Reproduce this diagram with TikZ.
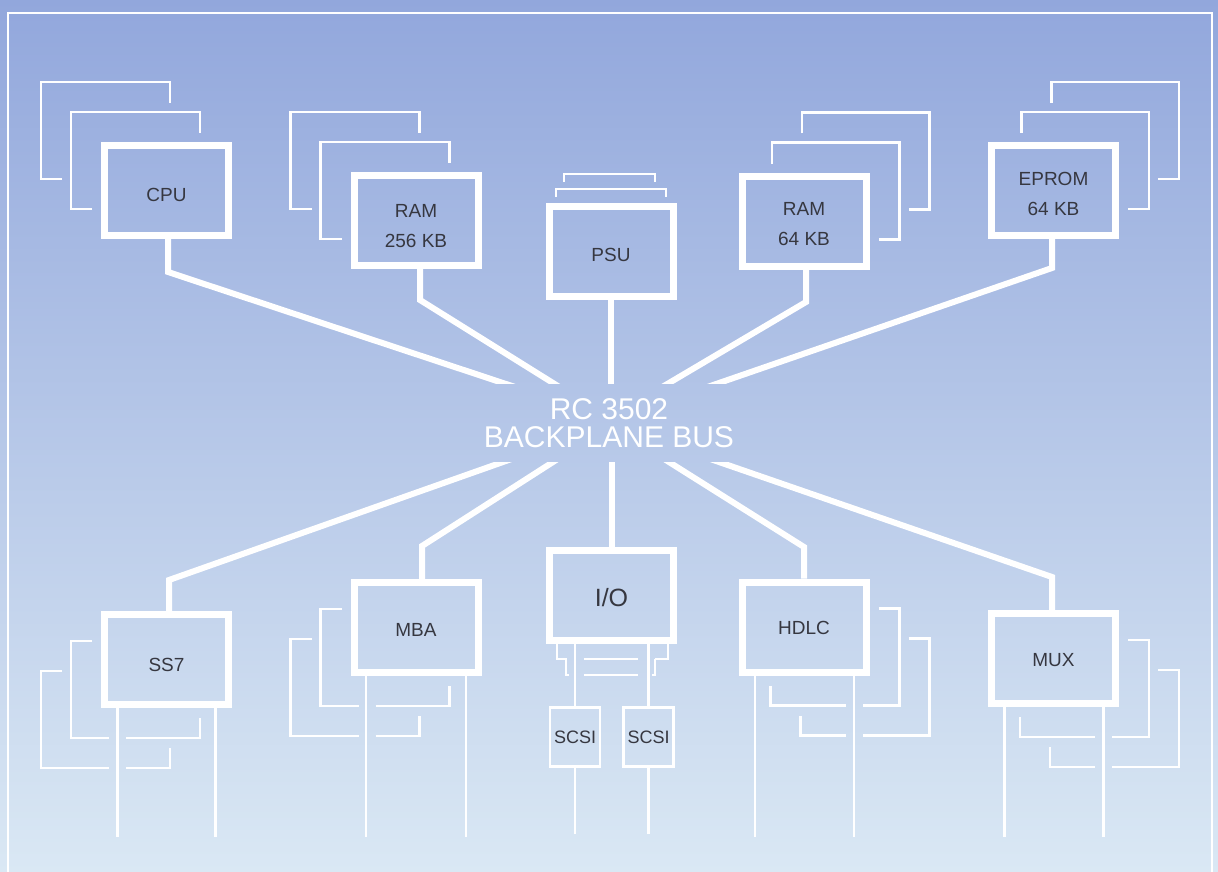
\documentclass[tikz,border=0pt]{standalone}
\usepackage{fontspec}
\setmainfont{Liberation Sans}
\usetikzlibrary{calc}
\definecolor{bgtop}{RGB}{146,167,220}
\definecolor{bgmid}{RGB}{181,204,237}
\definecolor{bgbot}{RGB}{218,232,244}
\definecolor{lbl}{RGB}{54,55,64}
\tikzset{
  card/.style={draw=white, line width=7pt, minimum width=124pt, minimum height=90pt, inner sep=0pt},
  lab/.style={text=lbl, font=\fontsize{19}{30}\selectfont, align=center, inner sep=0pt, yshift=-3.5pt},
  scsibox/.style={draw=white, line width=2.5pt, minimum width=50pt, minimum height=59pt, inner sep=0pt, text=lbl, font=\fontsize{18}{20}\selectfont},
  busline/.style={draw=white, line width=6pt},
  fine/.style={draw=white, line width=2.3pt},
  frameline/.style={draw=white, line width=2pt}
}
\begin{document}
\begin{tikzpicture}[x=1pt,y=-1pt]
\useasboundingbox (0,0) rectangle (1218,872);
\shade[top color=bgtop, middle color=bgmid, bottom color=bgbot] (0,0) rectangle (1218,872);
% frame
\draw[frameline] (8,872) -- (8,13) -- (1212,13) -- (1212,872);

% cards
\node[card, label={[lab,yshift=-1pt]center:CPU}] (CPU) at (166.5,190.5) {};
\node[card, label={[lab,yshift=-2pt]center:RAM\\256 KB}] (RAMa) at (416,220.5) {};
\node[card, label={[lab]center:PSU}] (PSU) at (611,251) {};
\node[card, label={[lab]center:RAM\\64 KB}] (RAMb) at (804,221) {};
\node[card, label={[lab]center:EPROM\\64 KB}] (EPROM) at (1053.5,190.5) {};
\node[card, label={[lab,yshift=-2pt]center:SS7}] (SS7) at (166.5,659.5) {};
\node[card, label={[lab,yshift=1pt]center:MBA}] (MBA) at (416,627.5) {};
\node[card, label={[lab,yshift=1pt,font=\fontsize{25}{30}\selectfont]center:I/O}] (IO) at (611.5,595.5) {};
\node[card, label={[lab,yshift=2.5pt]center:HDLC}] (HDLC) at (804,627) {};
\node[card, label={[lab,yshift=2pt]center:MUX}] (MUX) at (1053.5,658.5) {};
\node[scsibox] (SCa) at (575,737) {SCSI};
\node[scsibox] (SCb) at (648.5,737) {SCSI};
\node[text=white, font=\fontsize{30}{28}\selectfont, align=center, inner sep=0pt] (BUS) at (609,423) {RC 3502\\BACKPLANE BUS};

% bus end points and bends
\coordinate (tCPU) at (503,383);
\coordinate (tRAMa) at (553,383);
\coordinate (tPSU) at (611,383);
\coordinate (tRAMb) at (669,383);
\coordinate (tEPROM) at (719,383);
\coordinate (bSS7) at (503,462);
\coordinate (bMBA) at (553,462);
\coordinate (bIO) at (611.5,462);
\coordinate (bHDLC) at (669,462);
\coordinate (bMUX) at (719,462);
\coordinate (kCPU) at (168,272);
\coordinate (kRAMa) at (420,300);
\coordinate (kRAMb) at (806,302);
\coordinate (kEPROM) at (1052,268);
\coordinate (kSS7) at (169,580);
\coordinate (kMBA) at (422,546);
\coordinate (kHDLC) at (804,547);
\coordinate (kMUX) at (1052,577);

\begin{scope}
\clip (0,0) rectangle (1218,383);
\draw[busline] (kCPU |- CPU.south) -- (kCPU) -- ($(kCPU)!1.12!(tCPU)$);
\draw[busline] (kRAMa |- RAMa.south) -- (kRAMa) -- ($(kRAMa)!1.15!(tRAMa)$);
\draw[busline] (PSU.south) -- ($(PSU.south)!1.15!(tPSU)$);
\draw[busline] (kRAMb |- RAMb.south) -- (kRAMb) -- ($(kRAMb)!1.15!(tRAMb)$);
\draw[busline] (kEPROM |- EPROM.south) -- (kEPROM) -- ($(kEPROM)!1.12!(tEPROM)$);
\end{scope}
\begin{scope}
\clip (0,462) rectangle (1218,872);
\draw[busline] (kSS7 |- SS7.north) -- (kSS7) -- ($(kSS7)!1.12!(bSS7)$);
\draw[busline] (kMBA |- MBA.north) -- (kMBA) -- ($(kMBA)!1.15!(bMBA)$);
\draw[busline] (IO.north) -- ($(IO.north)!1.15!(bIO)$);
\draw[busline] (kHDLC |- HDLC.north) -- (kHDLC) -- ($(kHDLC)!1.15!(bHDLC)$);
\draw[busline] (kMUX |- MUX.north) -- (kMUX) -- ($(kMUX)!1.12!(bMUX)$);
\end{scope}

% stacked cards behind, top-left groups
\draw[fine] (92,209) -- (71,209) -- (71,112) -- (200,112) -- (200,133);
\draw[fine] (62,179) -- (41,179) -- (41,82) -- (170,82) -- (170,103);
\draw[fine] (341.5,239) -- (320.5,239) -- (320.5,142) -- (449.5,142) -- (449.5,163);
\draw[fine] (311.5,209) -- (290.5,209) -- (290.5,112) -- (419.5,112) -- (419.5,133);
% top-right groups
\draw[fine] (772,163.5) -- (772,142.5) -- (899.5,142.5) -- (899.5,239.5) -- (878.5,239.5);
\draw[fine] (802,133.5) -- (802,112.5) -- (929.5,112.5) -- (929.5,209.5) -- (908.5,209.5);
\draw[fine] (1021.5,133) -- (1021.5,112) -- (1149,112) -- (1149,209) -- (1128,209);
\draw[fine] (1051.5,103) -- (1051.5,82) -- (1179,82) -- (1179,179) -- (1158,179);
% PSU
\draw[fine] (556,197) -- (556,189) -- (666,189) -- (666,197);
\draw[fine] (564,182) -- (564,174) -- (655,174) -- (655,182);

% bottom-left groups
\draw[fine] (92,641) -- (71,641) -- (71,738) -- (109,738);
\draw[fine] (126,738) -- (200,738) -- (200,718);
\draw[fine] (62,671) -- (41,671) -- (41,768) -- (109,768);
\draw[fine] (126,768) -- (170,768) -- (170,748);
\draw[fine] (341.5,609) -- (320.5,609) -- (320.5,706) -- (358.5,706);
\draw[fine] (375.5,706) -- (449.5,706) -- (449.5,686);
\draw[fine] (311.5,639) -- (290.5,639) -- (290.5,736) -- (358.5,736);
\draw[fine] (375.5,736) -- (419.5,736) -- (419.5,716);
% bottom-right groups
\draw[fine] (878.5,608.5) -- (899.5,608.5) -- (899.5,705.5) -- (862.5,705.5);
\draw[fine] (845.5,705.5) -- (770.5,705.5) -- (770.5,685.5);
\draw[fine] (908.5,638.5) -- (929.5,638.5) -- (929.5,735.5) -- (862.5,735.5);
\draw[fine] (845.5,735.5) -- (800.5,735.5) -- (800.5,715.5);
\draw[fine] (1128,640) -- (1149,640) -- (1149,737) -- (1112,737);
\draw[fine] (1095,737) -- (1020,737) -- (1020,717);
\draw[fine] (1158,670) -- (1179,670) -- (1179,767) -- (1112,767);
\draw[fine] (1095,767) -- (1050,767) -- (1050,747);
% I/O stacked cards
\draw[fine] (557,644) -- (557,659) -- (567,659);
\draw[fine] (584,659) -- (638,659);
\draw[fine] (655,659) -- (668,659) -- (668,644);
\draw[fine] (566,659) -- (566,675) -- (569,675);
\draw[fine] (584,675) -- (638,675);
\draw[fine] (652,675) -- (655,675) -- (655,659);

% cable legs
\draw[fine] ([xshift=-49pt]SS7.south) -- ++(0,128.5);
\draw[fine] ([xshift=49pt]SS7.south) -- ++(0,128.5);
\draw[fine] ([xshift=-50pt]MBA.south) -- ++(0,160.5);
\draw[fine] ([xshift=50pt]MBA.south) -- ++(0,160.5);
\draw[fine] ([xshift=-49pt]HDLC.south) -- ++(0,161);
\draw[fine] ([xshift=50pt]HDLC.south) -- ++(0,161);
\draw[fine] ([xshift=-49pt]MUX.south) -- ++(0,129.5);
\draw[fine] ([xshift=50pt]MUX.south) -- ++(0,129.5);
\draw[fine] (IO.south -| SCa.north) -- (SCa.north);
\draw[fine] (IO.south -| SCb.north) -- (SCb.north);
\draw[fine] (SCa.south) -- ++(0,66.5);
\draw[fine] (SCb.south) -- ++(0,66.5);
\end{tikzpicture}
\end{document}
